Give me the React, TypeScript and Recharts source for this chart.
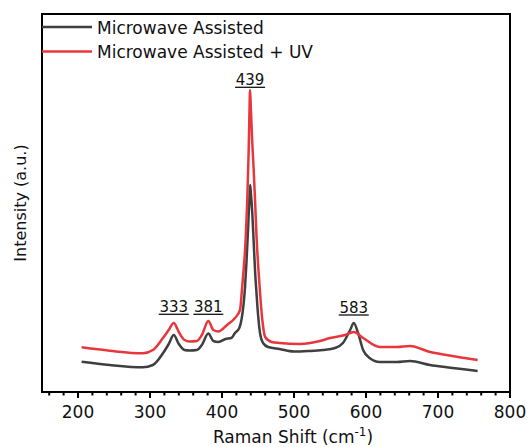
import React from "react";
import { LineChart, Line, XAxis, YAxis, ReferenceArea, ReferenceDot, Label } from "recharts";

const grayShift = [205, 244, 290, 304, 318, 326, 333, 340, 348, 355, 365, 372, 381, 388, 395, 405, 413, 418, 424, 427, 430, 432, 434, 436, 438, 439, 440, 442, 444, 446, 448, 450, 453, 457, 464, 480, 500, 520, 540, 557, 568, 578, 583, 589, 596, 605, 619, 643, 661, 689, 712, 755];
const grayIntensity = [30.3, 27, 24.7, 27, 38.7, 48, 57, 48, 42, 41.5, 42, 47, 58.5, 51, 50, 53, 54, 59, 64, 72, 88, 105, 130, 160, 192, 207, 200, 180, 150, 120, 98, 78, 58, 49, 45, 43, 40.5, 41, 42, 44, 49, 62, 69, 59, 42, 34, 30, 30, 31, 27, 24.7, 21];

const redShift = [205, 244, 290, 304, 318, 326, 333, 340, 348, 355, 365, 372, 381, 388, 395, 407, 418, 425, 428, 433, 435, 437, 438, 439, 440, 442, 444, 446, 448, 452, 456, 460, 469, 480, 508, 536, 550, 571, 583, 596, 619, 643, 661, 689, 712, 755];
const redIntensity = [44.7, 41.3, 38.7, 42, 54, 62, 69, 60, 52, 50.5, 51, 57, 71, 62, 60.5, 67, 74, 82, 105, 155, 190, 240, 275, 302, 285, 250, 222, 190, 155, 108, 72, 55, 50, 49, 48, 51, 54, 57, 60, 54, 45, 45, 46, 40, 37, 32];

const peakShifts = [333, 381, 439, 583];
const peakLabelLevels = [77.7, 77.7, 304.7, 77];

const majorTicks = [200, 300, 400, 500, 600, 700, 800];
const allTicks = [160, 180, 200, 220, 240, 260, 280, 300, 320, 340, 360, 380, 400, 420, 440, 460, 480, 500, 520, 540, 560, 580, 600, 620, 640, 660, 680, 700, 720, 740, 760, 780, 800];

const seriesNames = ["Microwave Assisted", "Microwave Assisted + UV"];
const colors = ["#3f3f3f", "#e8373c"];

const grayData = grayShift.map((x, i) => ({ x, y: grayIntensity[i] }));
const redData = redShift.map((x, i) => ({ x, y: redIntensity[i] }));

const FONT = "'DejaVu Sans', sans-serif";

const Tick = (props: any) => {
  const { x, y, payload } = props;
  const major = majorTicks.includes(payload.value);
  return (
    <g>
      <line x1={x} x2={x} y1={y} y2={y + (major ? 6 : 3.5)} stroke="#000" strokeWidth={2} />
      {major && (
        <text x={x} y={y + 26} textAnchor="middle" fontSize={17} fontFamily={FONT} fill="#111">
          {payload.value}
        </text>
      )}
    </g>
  );
};

const PeakLabel = (props: any) => {
  const { cx, cy, text } = props;
  if (cx == null || cy == null) return null;
  return (
    <g>
      <text x={cx} y={cy - 2} textAnchor="middle" fontSize={15} fontFamily={FONT} fill="#111">
        {text}
      </text>
      <line x1={cx - 15} x2={cx + 15} y1={cy} y2={cy} stroke="#111" strokeWidth={1.3} />
    </g>
  );
};

const XTitle = (props: any) => {
  const { viewBox } = props;
  const cx = viewBox.x + viewBox.width / 2 + 17;
  return (
    <text x={cx} y={443} textAnchor="middle" fontSize={17} fontFamily={FONT} fill="#111">
      Raman Shift (cm
      <tspan dy={-7} fontSize={12}>-1</tspan>
      <tspan dy={7}>)</tspan>
    </text>
  );
};

const YTitle = () => (
  <text x={26} y={203} textAnchor="middle" fontSize={16} fontFamily={FONT} fill="#111" transform="rotate(-90 26 203)">
    Intensity (a.u.)
  </text>
);

const LegendBox = (props: any) => {
  const { viewBox } = props;
  const x0 = viewBox.x;
  const rows = [33.5, 58];
  return (
    <g>
      {seriesNames.map((n, i) => (
        <g key={n}>
          <line x1={x0} x2={x0 + 50} y1={rows[i] - 6.5} y2={rows[i] - 6.5} stroke={colors[i]} strokeWidth={2.5} />
          <text x={x0 + 55} y={rows[i]} fontSize={17} fontFamily={FONT} fill="#111">
            {n}
          </text>
        </g>
      ))}
    </g>
  );
};

export default function App() {
  return (
    <div style={{ width: 529, height: 447 }}>
      <style>{`body{margin:0}`}</style>
      <LineChart width={529} height={447} margin={{ top: 14, right: 19, left: 0, bottom: 0 }}>
        <XAxis
          dataKey="x"
          type="number"
          domain={[150, 800]}
          ticks={allTicks}
          interval={0}
          tick={<Tick />}
          tickLine={false}
          tickSize={0}
          tickMargin={0}
          axisLine={false}
          height={55}
          allowDataOverflow
        >
          <Label content={<XTitle />} />
        </XAxis>
        <YAxis type="number" domain={[0, 378]} tick={false} axisLine={false} width={42} allowDataOverflow>
          <Label content={<YTitle />} />
        </YAxis>
        <Line data={grayData} dataKey="y" type="monotone" stroke={colors[0]} strokeWidth={2.5} dot={false} isAnimationActive={false} name={seriesNames[0]} />
        <Line data={redData} dataKey="y" type="monotone" stroke={colors[1]} strokeWidth={2.5} dot={false} isAnimationActive={false} name={seriesNames[1]} />
        {peakShifts.map((p, i) => (
          <ReferenceDot key={p} x={p} y={peakLabelLevels[i]} r={0} shape={(s: any) => <PeakLabel {...s} text={String(p)} />} />
        ))}
        <ReferenceArea x1={150} x2={800} y1={0} y2={378} fill="none" stroke="#000" strokeWidth={2} ifOverflow="extendDomain">
          <Label content={<LegendBox />} />
        </ReferenceArea>
      </LineChart>
    </div>
  );
}
